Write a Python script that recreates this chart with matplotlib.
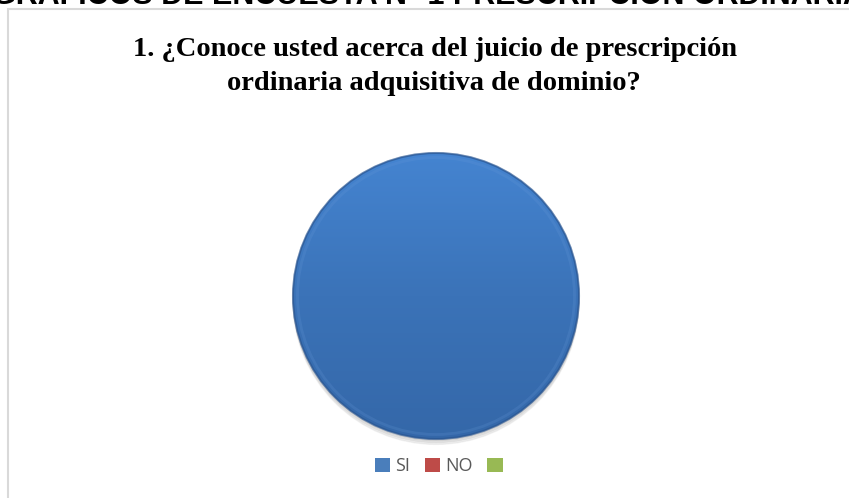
import numpy as np
import matplotlib.pyplot as plt
from matplotlib.colors import LinearSegmentedColormap
from matplotlib.patches import Rectangle

# datos de la encuesta
categorias = ["SI", "NO", ""]
valores = [100, 0, 0]
colores = ["#4A7EBB", "#BE4B48", "#98B954"]
titulo_1 = "1. ¿Conoce usted acerca del juicio de prescripción"
titulo_2 = "ordinaria adquisitiva de dominio?"
encabezado = "GRAFICOS DE ENCUESTA N° 1 PRESCRIPCION ORDINARIA"

W, H = 849, 498
fig = plt.figure(figsize=(W / 100, H / 100), dpi=100)
fig.patch.set_facecolor("white")

# marco del grafico (detras de todo)
marco = Rectangle((8 / W, -0.05), 1.0, 1 - 9 / H + 0.05, transform=fig.transFigure,
                  facecolor="white", edgecolor="#D9D9D9", linewidth=1.5, zorder=-5)
fig.patches.append(marco)

# encabezado cortado arriba
fig.text(0.505, 1 - 4 / H, encabezado, ha="center", va="baseline", fontsize=22,
         fontweight="bold", family="Liberation Sans", color="black")

fig.text(435 / W, 1 - 56 / H, titulo_1, ha="center", va="baseline", fontsize=20.5,
         fontweight="bold", family="Liberation Serif")
fig.text(434 / W, 1 - 90 / H, titulo_2, ha="center", va="baseline", fontsize=20.5,
         fontweight="bold", family="Liberation Serif")

# el pie: centro (436, 296) r=143 px
ax = fig.add_axes([(436 - 150) / W, (H - 296 - 150) / H, 300 / W, 300 / H])
r = 143 / 150
wedges, _ = ax.pie(valores, colors=colores, startangle=90, counterclock=False,
                   wedgeprops=dict(linewidth=0), radius=r)
ax.set_xlim(-1, 1)
ax.set_ylim(-1, 1)
ax.set_aspect("equal")
ax.axis("off")

# sombra suave debajo
for k in range(3):
    ax.add_patch(plt.Circle((0.0, -0.012 * (k + 1)), r, color="#000000", alpha=0.05, zorder=0))

# degradado azul sobre la porcion SI
cmap = LinearSegmentedColormap.from_list("azul", ["#3467A8", "#3B73B8", "#4585D2"])
grad = np.linspace(0, 1, 256).reshape(-1, 1)
img = ax.imshow(grad, extent=[-1, 1, -1, 1], origin="lower", cmap=cmap, zorder=2,
                aspect="auto")
img.set_clip_path(wedges[0])
ax.add_patch(plt.Circle((0, 0), r, fill=False, edgecolor="#2A5590", linewidth=1.5,
                        alpha=0.7, zorder=3))
ax.add_patch(plt.Circle((0, 0), r - 0.03, fill=False, edgecolor="#6A9BDA", linewidth=2,
                        alpha=0.2, zorder=3))

# leyenda
handles = [Rectangle((0, 0), 1, 1, facecolor=c, edgecolor="none") for c in colores]
fig.legend(handles, categorias, loc="center", bbox_to_anchor=(0.520, 1 - 466 / H), ncol=3,
           frameon=False, handlelength=0.85, handleheight=0.85,
           handletextpad=0.3, columnspacing=0.8, labelcolor="#595959",
           prop={"family": "Open Sans", "size": 13})

fig.savefig("out.png", dpi=100)
